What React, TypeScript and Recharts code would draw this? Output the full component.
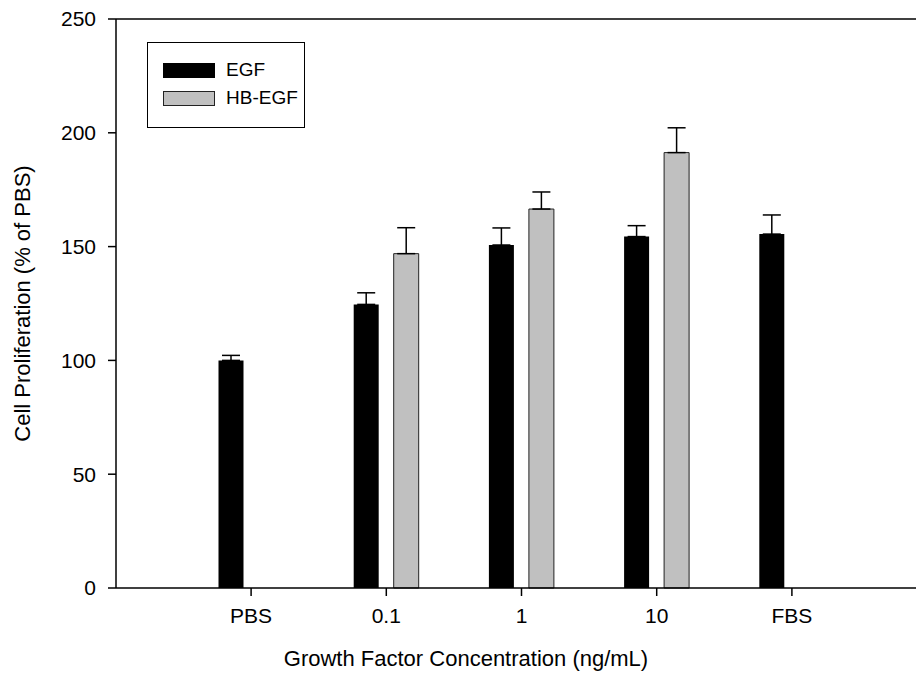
import { Bar, BarChart, ErrorBar, ReferenceLine, XAxis, YAxis } from "recharts";

const FONT = "'Liberation Sans', Arial, Helvetica, sans-serif";

const categories = ["PBS", "0.1", "1", "10", "FBS"];
const egf = [100, 124.6, 150.7, 154.4, 155.5];
const egfErr = [2.2, 5.1, 7.5, 4.8, 8.4];
const hbEgf: (number | null)[] = [null, 146.9, 166.5, 191.3, null];
const hbEgfErr: (number | null)[] = [null, 11.4, 7.5, 10.9, null];
const yTicks = [0, 50, 100, 150, 200, 250];

const data = categories.map((cat, i) => ({
  cat,
  egf: egf[i],
  egfErr: [0, egfErr[i]],
  hb: hbEgf[i],
  hbErr: hbEgfErr[i] == null ? undefined : [0, hbEgfErr[i] as number],
}));

// legend is drawn as an overlay so it doesn't take chart space
function LegendBox() {
  const row = (fill: string, label: string, stroke: string) => (
    <div style={{ display: "flex", alignItems: "center", height: 28 }}>
      <div
        style={{
          width: 52,
          height: 15,
          background: fill,
          border: `1px solid ${stroke}`,
          boxSizing: "border-box",
          marginLeft: 15,
          marginRight: 11,
          flex: "none",
        }}
      />
      <span style={{ fontFamily: FONT, fontSize: 19, color: "#000", whiteSpace: "nowrap" }}>
        {label}
      </span>
    </div>
  );
  return (
    <div
      style={{
        position: "absolute",
        left: 147,
        top: 42,
        width: 158,
        height: 86,
        border: "1px solid #000",
        boxSizing: "border-box",
        background: "#fff",
        paddingTop: 13,
      }}
    >
      {row("#000", "EGF", "#000")}
      {row("#c0c0c0", "HB-EGF", "#222")}
    </div>
  );
}

export default function App() {
  return (
    <div style={{ position: "absolute", left: 0, top: 0, width: 916, height: 684, background: "#fff" }}>
      <BarChart
        width={916}
        height={684}
        data={data}
        margin={{ top: 19, right: 0, bottom: 66, left: 0 }}
        barSize={25}
        barGap={15}
      >
        <XAxis
          dataKey="cat"
          height={30}
          padding={{ left: 67.5, right: 56.5 }}
          axisLine={{ stroke: "#000", strokeWidth: 1.5 }}
          tickLine={{ stroke: "#000", strokeWidth: 1.5 }}
          tickSize={8}
          tickMargin={12}
          tick={{ fill: "#000", fontSize: 21, fontFamily: FONT }}
          label={{
            value: "Growth Factor Concentration (ng/mL)",
            position: "bottom",
            offset: 32,
            dx: -50,
            fill: "#000",
            fontSize: 22,
            fontFamily: FONT,
          }}
        />
        <YAxis
          width={116}
          domain={[0, 250]}
          ticks={yTicks}
          interval={0}
          axisLine={{ stroke: "#000", strokeWidth: 1.5 }}
          tickLine={{ stroke: "#000", strokeWidth: 1.5 }}
          tickSize={8}
          tickMargin={12}
          tick={{ fill: "#000", fontSize: 21, fontFamily: FONT }}
          label={{
            value: "Cell Proliferation (% of PBS)",
            angle: -90,
            position: "insideLeft",
            offset: 22,
            style: { textAnchor: "middle" },
            fill: "#000",
            fontSize: 22,
            fontFamily: FONT,
          }}
        />
        <ReferenceLine y={250} stroke="#000" strokeWidth={1.5} ifOverflow="visible" />
        <Bar dataKey="egf" name="EGF" fill="#000" isAnimationActive={false}>
          <ErrorBar dataKey="egfErr" width={9} stroke="#000" strokeWidth={1.5} direction="y" />
        </Bar>
        <Bar
          dataKey="hb"
          name="HB-EGF"
          fill="#c0c0c0"
          stroke="#222"
          strokeWidth={1}
          isAnimationActive={false}
        >
          <ErrorBar dataKey="hbErr" width={9} stroke="#000" strokeWidth={1.5} direction="y" />
        </Bar>
      </BarChart>
      <LegendBox />
    </div>
  );
}
